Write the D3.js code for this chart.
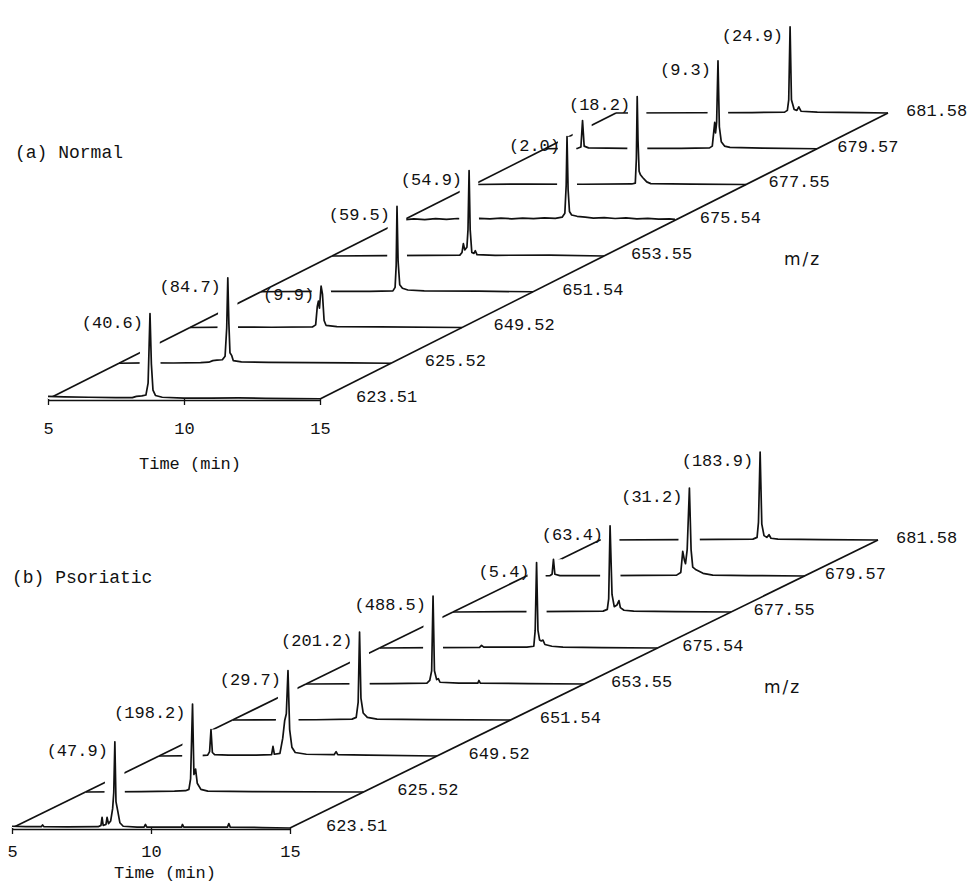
<!DOCTYPE html>
<html>
<head>
<meta charset="utf-8">
<script src="https://cdn.jsdelivr.net/npm/d3@7"></script>
<style>
  body { margin: 0; background: #fff; }
  svg text { font-family: "Liberation Mono", "DejaVu Sans Mono", monospace; fill: #111; }
  svg .mz-title { font-family: "DejaVu Sans", "Liberation Sans", sans-serif; }
</style>
</head>
<body>
<svg id="chart" width="973" height="882"></svg>
<script>
const mzValues = ["623.51", "625.52", "649.52", "651.54", "653.55", "675.54", "677.55", "679.57", "681.58"];
const normalPeakLabels = ["40.6", "84.7", "9.9", "59.5", "54.9", "2.0", "18.2", "9.3", "24.9"];
const psoriaticPeakLabels = ["47.9", "198.2", "29.7", "201.2", "488.5", "5.4", "63.4", "31.2", "183.9"];
const timeTicks = [5, 10, 15];

// [time (min), relative intensity], one trace per m/z, front (623.51) to back
const normalTraces = [
  [[5,3],[5.6,2.5],[6.5,2],[7.5,1.5],[8.1,1.5],[8.25,3],[8.45,3.5],[8.6,4.5],[8.68,18],[8.75,97],[8.8,40],[8.86,10],[8.95,4],[9.2,2],[10,1],[11,1],[12,1.2],[13,0.8],[14,0.5],[15,0.3]],
  [[5,0],[6,0.5],[7,0.3],[8,0.6],[8.3,1.2],[8.45,3],[8.6,3.5],[8.8,4],[8.9,8],[8.96,40],[9,97],[9.04,45],[9.08,12],[9.14,9],[9.2,3],[9.5,1.5],[10.5,1],[12,0.8],[13.5,0.5],[15,0]],
  [[5,0],[6.5,0.5],[8,0.3],[9.5,0.6],[9.62,3],[9.68,24],[9.72,30],[9.76,22],[9.82,47],[9.87,38],[9.93,8],[10,2.5],[10.4,1],[12,0.6],[15,0]],
  [[5,0],[7,0.5],[9,0.4],[9.85,1],[9.93,5],[9.97,30],[10,97],[10.04,35],[10.1,8],[10.2,4],[10.4,2],[11,1],[13,0.6],[15,0]],
  [[5,0],[7,0.4],[8.5,0.6],[9.7,1],[9.78,4],[9.83,14],[9.88,7],[9.96,10],[10,30],[10.04,97],[10.08,30],[10.14,4],[10.22,3],[10.27,6],[10.33,1.5],[11,0.8],[13,1],[15,0]],
  [[5,0.5],[5.4,1.5],[5.8,0.8],[6.2,1.8],[6.6,1],[7,2],[7.4,1.2],[7.8,2.2],[8.2,1.5],[8.6,2.5],[9,1.6],[9.4,2.4],[9.8,1.8],[10.2,2.8],[10.6,2.2],[10.85,3.5],[10.95,8],[11,40],[11.03,95],[11.07,35],[11.12,10],[11.2,6],[11.4,4.5],[11.7,3.5],[12,2.5],[12.4,3],[12.8,2],[13.2,2.8],[13.6,1.5],[14,2.2],[14.4,1.2],[14.8,1.5],[15,1]],
  [[5,0],[7,0.5],[9,0.3],[10.8,0.6],[10.93,1.5],[10.97,30],[11,100],[11.03,50],[11.07,15],[11.12,11],[11.2,8],[11.35,3],[11.5,1],[13,0.5],[15,0]],
  [[5,0],[6.2,0.5],[6.32,2],[6.38,32],[6.44,3],[6.6,1],[8,0.5],[10,0.5],[11.05,1],[11.15,3],[11.2,18],[11.24,30],[11.27,18],[11.31,30],[11.36,100],[11.41,25],[11.48,8],[11.6,3],[11.8,1.5],[13,0.8],[15,0]],
  [[5,0],[8,0.3],[10,0.5],[11.2,1],[11.3,3],[11.35,15],[11.4,98],[11.45,15],[11.55,4],[11.65,3],[11.72,7],[11.8,2],[12.4,1],[14,0.5],[15,0]]
];

const psoriaticTraces = [
  [[5,2],[5.5,1.5],[6.05,1.5],[6.1,3.5],[6.15,1.5],[7,1.2],[8.1,1.5],[8.2,3],[8.24,12],[8.28,3],[8.38,4],[8.42,12],[8.47,5],[8.55,8],[8.62,22],[8.66,40],[8.7,98],[8.74,30],[8.8,20],[8.88,6],[9,2],[9.5,1],[9.75,1],[9.8,4],[9.85,1],[11.1,1],[11.13,4],[11.18,1],[12.75,1],[12.8,5],[12.85,1],[14,0.5],[15,0]],
  [[5,0],[7,0.5],[8.2,1],[8.6,1.5],[8.72,3],[8.78,15],[8.85,100],[8.9,20],[8.96,26],[9.02,10],[9.15,3],[9.4,1],[11,0.5],[15,0]],
  [[5,0],[6.5,0.5],[6.75,1],[6.82,5],[6.87,30],[6.92,4],[7,1.5],[7.5,1],[8.5,1],[9.05,1.5],[9.1,11],[9.15,2],[9.35,3],[9.45,20],[9.52,40],[9.58,48],[9.64,97],[9.7,30],[9.78,10],[9.9,4],[10.3,2],[11.3,1.5],[11.37,5],[11.43,1.5],[12.5,1],[15,0]],
  [[5,0],[8,0.3],[9.3,1],[9.45,3],[9.52,20],[9.57,100],[9.62,25],[9.7,8],[9.85,3],[10.2,1],[12,0.5],[15,0]],
  [[5,0],[8,0.5],[9.35,1],[9.45,4],[9.52,15],[9.57,100],[9.62,15],[9.7,5],[9.76,6],[9.82,2],[10.5,1],[11.18,1],[11.22,4],[11.27,1],[13,0.5],[15,0]],
  [[5,0],[7,0.5],[8.6,0.8],[8.67,3],[8.75,1],[10.3,1],[10.55,2],[10.6,20],[10.65,97],[10.7,20],[10.76,9],[10.82,8],[10.88,9],[10.95,4],[11.2,2],[11.6,1],[13,0.5],[15,0]],
  [[5,0],[8,0.5],[10.4,1],[10.55,3],[10.6,15],[10.65,98],[10.72,20],[10.8,6],[10.9,8],[10.97,13],[11.02,5],[11.15,2],[11.5,1],[13,0.5],[15,0]],
  [[5,0],[5.85,0.5],[5.92,2],[5.97,19],[6.02,2],[6.2,0.5],[8,0.5],[10.4,1],[10.55,4],[10.62,28],[10.68,18],[10.72,14],[10.78,30],[10.86,100],[10.92,30],[10.98,10],[11.1,7],[11.35,3],[11.7,1],[13,0.5],[15,0]],
  [[5,0],[8,0.5],[10.5,1],[10.65,3],[10.7,20],[10.76,100],[10.82,18],[10.9,5],[11,3],[11.08,6],[11.15,2],[11.4,1],[13,0.5],[15,0]]
];

const panels = [
  {
    title: "(a) Normal", traces: normalTraces, peakLabels: normalPeakLabels,
    origin: { x: 48, y: 399 }, timeWidth: 272, depth: { x: 568, y: -286 },
    titlePos: { x: 15, y: 152 }, timeLabelPos: { x: 190, y: 463 }, tickPadding: 17
  },
  {
    title: "(b) Psoriatic", traces: psoriaticTraces, peakLabels: psoriaticPeakLabels,
    origin: { x: 12, y: 828 }, timeWidth: 278, depth: { x: 588, y: -288 },
    titlePos: { x: 12, y: 577 }, timeLabelPos: { x: 165, y: 872 }, tickPadding: 11
  }
];

const peakHeight = 88;
const hideWidth = 9;
const ink = "#111";
const fontSize = 17;

const drawPanel = (svg, panel) => {
  const g = svg.append("g");

  const xScale = d3.scaleLinear().domain([5, 15]).range([panel.origin.x, panel.origin.x + panel.timeWidth]);
  const depthX = d3.scalePoint().domain(mzValues).range([0, panel.depth.x]);
  const depthY = d3.scalePoint().domain(mzValues).range([panel.origin.y, panel.origin.y + panel.depth.y]);
  const yScale = d3.scaleLinear().domain([0, 100]).range([0, peakHeight]);
  // m/z labels sit a bit closer to the edge towards the back
  const labelGap = d3.scalePoint().domain(mzValues).range([36, 18]);

  const px = (t, mz) => xScale(t) + depthX(mz);
  const py = (v, mz) => depthY(mz) - yScale(v);

  const edge = (a, b) =>
    g.append("line")
      .attr("x1", a[0]).attr("y1", a[1])
      .attr("x2", b[0]).attr("y2", b[1])
      .attr("stroke", ink).attr("stroke-width", 1.7);

  // back to front, so every trace hides what lies behind it
  for (let i = mzValues.length - 1; i >= 0; i--) {
    const mz = mzValues[i];
    const trace = panel.traces[i];
    const base = depthY(mz);

    if (i < mzValues.length - 1) {
      const next = mzValues[i + 1];
      edge([px(5, mz), py(0, mz)], [px(5, next), py(0, next)]);
    }

    // white curtain under the trace, a little wider than the peaks
    const pts = trace.map(d => [px(d[0], mz), yScale(d[1])]);
    const heightAt = d3.scaleLinear().domain(pts.map(p => p[0])).range(pts.map(p => p[1])).clamp(true);
    const cols = d3.range(Math.ceil(pts[0][0]), Math.floor(pts[pts.length - 1][0]) + 1);
    const envelope = cols.map(c => {
      const near = pts.filter(p => Math.abs(p[0] - c) <= hideWidth).map(p => p[1]);
      const around = d3.range(c - hideWidth, c + hideWidth + 1).map(heightAt);
      return [c, Math.max(d3.max(around), d3.max(near) || 0)];
    });
    const curtain = d3.area().x(d => d[0]).y0(base).y1(d => base - d[1]);
    g.append("path").datum(envelope).attr("d", curtain).attr("fill", "#fff");

    const line = d3.line().x(d => px(d[0], mz)).y(d => py(d[1], mz));
    g.append("path").datum(trace)
      .attr("d", line)
      .attr("fill", "none")
      .attr("stroke", ink)
      .attr("stroke-width", 1.7)
      .attr("stroke-linejoin", "round");
  }

  // front edge (time axis) and right edge (m/z axis)
  const front = mzValues[0];
  const back = mzValues[mzValues.length - 1];
  edge([px(5, front), py(0, front) + 1.5], [px(15, front), py(0, front) + 1.5]);
  edge([px(15, front), py(0, front)], [px(15, back), py(0, back)]);

  const axis = g.append("g")
    .attr("transform", `translate(0, ${panel.origin.y})`)
    .call(d3.axisBottom(xScale).tickValues(timeTicks).tickSize(6).tickPadding(panel.tickPadding));
  axis.select(".domain").remove();
  axis.selectAll("line").attr("stroke", ink).attr("stroke-width", 1.3);
  axis.selectAll("text")
    .attr("fill", ink)
    .style("font-family", '"Liberation Mono", monospace')
    .style("font-size", `${fontSize}px`);

  g.append("text")
    .attr("x", panel.timeLabelPos.x)
    .attr("y", panel.timeLabelPos.y)
    .attr("dy", "0.35em")
    .attr("text-anchor", "middle")
    .style("font-size", `${fontSize}px`)
    .text("Time (min)");

  g.append("text")
    .attr("x", panel.titlePos.x)
    .attr("y", panel.titlePos.y)
    .attr("dy", "0.35em")
    .style("font-size", "18px")
    .text(panel.title);

  // m/z value at the right end of each trace
  g.selectAll(".mz-label")
    .data(mzValues)
    .enter()
    .append("text")
    .attr("class", "mz-label")
    .attr("x", mz => px(15, mz) + labelGap(mz))
    .attr("y", mz => py(0, mz) - 3)
    .attr("dy", "0.35em")
    .style("font-size", `${fontSize}px`)
    .text(mz => mz);

  const mid = mzValues[4];
  g.append("text")
    .attr("class", "mz-title")
    .attr("x", px(15, mid) + 180)
    .attr("y", py(0, mid) + 3)
    .attr("dy", "0.35em")
    .attr("fill", ink)
    .style("fill", ink)
    .style("font-size", "17px")
    .style("letter-spacing", "2px")
    .text("m/z");

  // maximum intensity written next to each trace's tallest peak
  mzValues.forEach((mz, i) => {
    const top = d3.greatest(panel.traces[i], d => d[1]);
    g.append("text")
      .attr("x", px(top[0], mz) - 7)
      .attr("y", py(top[1], mz) + 8)
      .attr("dy", "0.35em")
      .attr("text-anchor", "end")
      .style("font-size", `${fontSize}px`)
      .text(`(${panel.peakLabels[i]})`);
  });
};

const main = () => {
  const svg = d3.select("#chart");
  svg.append("rect").attr("width", 973).attr("height", 882).attr("fill", "#fff");
  panels.forEach(panel => drawPanel(svg, panel));
};

window.onload = main;
</script>
</body>
</html>
